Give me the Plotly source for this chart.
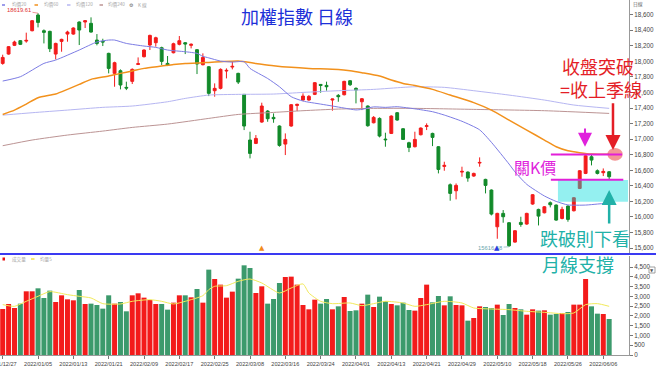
import plotly.graph_objects as go

dates = ["2021/12/27","2021/12/28","2021/12/29","2021/12/30",
"2022/01/03","2022/01/04","2022/01/05","2022/01/06","2022/01/07",
"2022/01/10","2022/01/11","2022/01/12","2022/01/13","2022/01/14",
"2022/01/17","2022/01/18","2022/01/19","2022/01/20","2022/01/21",
"2022/01/24","2022/01/25","2022/01/26",
"2022/02/07","2022/02/08","2022/02/09","2022/02/10","2022/02/11",
"2022/02/14","2022/02/15","2022/02/16","2022/02/17","2022/02/18",
"2022/02/21","2022/02/22","2022/02/23","2022/02/24","2022/02/25",
"2022/03/01","2022/03/02","2022/03/03","2022/03/04",
"2022/03/07","2022/03/08","2022/03/09","2022/03/10","2022/03/11",
"2022/03/14","2022/03/15","2022/03/16","2022/03/17","2022/03/18",
"2022/03/21","2022/03/22","2022/03/23","2022/03/24","2022/03/25",
"2022/03/28","2022/03/29","2022/03/30","2022/03/31","2022/04/01",
"2022/04/06","2022/04/07","2022/04/08",
"2022/04/11","2022/04/12","2022/04/13","2022/04/14","2022/04/15",
"2022/04/18","2022/04/19","2022/04/20","2022/04/21","2022/04/22",
"2022/04/25","2022/04/26","2022/04/27","2022/04/28","2022/04/29",
"2022/05/03","2022/05/04","2022/05/05","2022/05/06",
"2022/05/09","2022/05/10","2022/05/11","2022/05/12","2022/05/13",
"2022/05/16","2022/05/17","2022/05/18","2022/05/19","2022/05/20",
"2022/05/23","2022/05/24","2022/05/25","2022/05/26","2022/05/27",
"2022/05/30","2022/05/31","2022/06/01","2022/06/02",
"2022/06/06","2022/06/07"]

opens = [17974,18094,18206,18266,18261,18394,18596,18394,18386,18094,
18257,18351,18351,18506,18506,18489,18274,18257,18103,17846,
17880,17666,17743,17961,18060,18210,18240,18176,17974,18111,
18219,18240,18206,18150,17957,17931,17623,17653,17876,17927,
17846,17576,16989,16946,17220,17361,17280,17169,16937,17169,
17434,17503,17503,17576,17704,17691,17503,17563,17571,17751,
17653,17481,17426,17211,17267,17001,17074,17340,17134,16954,
16903,17057,17164,17074,16903,16650,16414,16337,16577,16577,
16526,16693,16483,16346,15874,16046,15926,15677,15930,15909,
16166,16097,16054,16183,16153,15981,16140,16080,16367,16560,
16774,16594,16569,16581]
highs = [18086,18197,18266,18274,18369,18531,18619.61,18411,18394,18240,
18291,18394,18437,18514,18531,18566,18351,18291,18111,17996,
17897,17739,17910,18051,18154,18343,18317,18189,18069,18240,
18326,18249,18231,18159,18103,17940,17717,17910,17910,18004,
17854,17580,17096,17053,17469,17374,17331,17177,17074,17451,
17456,17589,17567,17734,17709,17739,17520,17580,17751,17760,
17666,17529,17434,17297,17280,17083,17306,17349,17143,16967,
17096,17151,17203,17083,16911,16710,16431,16431,16646,16586,
16569,16766,16491,16354,16054,16089,15934,15831,16003,16054,
16294,16106,16140,16200,16161,16131,16149,16256,16603,16796,
16809,16611,16624,16590]
lows = [17957,18086,18197,18210,18240,18386,18437,18231,18120,18026,
18124,18253,18343,18210,18429,18369,18206,18197,17846,17674,
17640,17631,17709,17953,18051,18146,18189,17953,17940,18103,
18206,18094,18167,17837,17949,17554,17546,17640,17781,17897,
17709,17117,16753,16937,17211,17224,17211,16903,16796,17160,
17361,17494,17494,17567,17597,17623,17366,17481,17563,17683,
17460,17374,17160,17203,17023,16903,17066,17237,16989,16834,
16894,17049,17117,16911,16560,16594,16209,16226,16517,16453,
16517,16646,16303,16020,15720,15926,15616.68,15669,15874,15900,
16157,15891,16046,16123,15951,15969,15939,16071,16359,16551,
16663,16547,16526,16474]
closes = [18051,18189,18249,18219,18270,18523,18501,18373,18163,18231,
18283,18377,18429,18403,18523,18377,18231,18249,17910,17983,
17696,17657,17897,17970,18146,18334,18304,18000,17949,18227,
18266,18223,18219,17966,18051,17589,17653,17897,17884,17936,
17734,17169,16817,17010,17426,17263,17263,16920,16997,17443,
17447,17554,17550,17726,17691,17674,17516,17546,17743,17700,
17631,17520,17173,17280,17040,16993,17297,17246,16997,16894,
16997,17143,17173,17023,16611,16663,16303,16406,16586,16500,
16560,16701,16406,16037,16046,16003,15630,15823,15904,16046,
16286,16011,16131,16157,15960,16097,15969,16247,16594,16787,
16731,16560,16586,16517]
volumes = [2353,2609,2404,2626,3257,3257,3410,2916,3291,2711,
3052,2847,2796,3325,2609,2626,2558,2370,3052,2626,
2711,2234,3052,3154,2933,2813,2609,2609,2319,2677,
3052,3052,2950,3376,2677,4365,3887,3598,2933,3240,
3904,4586,4450,3171,3512,2626,2864,3683,3990,4007,
3598,2558,2336,2830,2626,2864,2336,2489,2967,2251,
2285,2626,3086,2455,2984,2745,2609,2540,2677,2302,
2268,2916,3598,2694,3018,2540,3001,2558,2540,1756,
1893,2489,2455,2404,2575,2046,2609,2404,2336,2063,
2336,2268,2285,2063,2097,2148,2199,2575,2575,3887,
2489,2114,2097,1841]

ma20_dates = ["2021/12/27","2021/12/30","2022/01/06","2022/01/10","2022/01/14","2022/01/19","2022/01/21","2022/01/24","2022/01/26","2022/02/09","2022/02/11","2022/02/15","2022/02/18","2022/02/22","2022/02/23","2022/02/24","2022/03/01","2022/03/03","2022/03/07","2022/03/08","2022/03/11","2022/03/15","2022/03/17","2022/03/21","2022/03/24","2022/03/28","2022/03/30","2022/04/01","2022/04/06","2022/04/08","2022/04/12","2022/04/14","2022/04/18","2022/04/19","2022/04/22","2022/04/26","2022/04/29","2022/05/05","2022/05/09","2022/05/12","2022/05/13","2022/05/17","2022/05/20","2022/05/24","2022/05/26","2022/05/31","2022/06/02","2022/06/07"]
ma20_vals = [17747,17803,17974,18017,18146,18249,18274,18274,18231,18197,18180,18146,18124,18103,18065,18045,18004,17991,17996,17910,17780,17674,17546,17490,17451,17426,17400,17376,17383,17415,17409,17417,17400,17390,17353,17310,17230,17120,16960,16680,16580,16420,16270,16200,16155,16153,16166,16180]

ma60_dates = ["2021/12/27","2021/12/29","2022/01/03","2022/01/05","2022/01/10","2022/01/12","2022/01/14","2022/01/18","2022/01/21","2022/01/25","2022/02/07","2022/02/09","2022/02/14","2022/02/16","2022/02/18","2022/02/23","2022/02/24","2022/03/01","2022/03/04","2022/03/09","2022/03/14","2022/03/17","2022/03/22","2022/03/29","2022/03/31","2022/04/06","2022/04/11","2022/04/13","2022/04/15","2022/04/19","2022/04/22","2022/04/27","2022/05/04","2022/05/09","2022/05/12","2022/05/17","2022/05/20","2022/05/24","2022/05/26","2022/05/30","2022/06/01","2022/06/07"]
ma60_vals = [17318,17374,17451,17533,17580,17640,17704,17769,17811,17846,17876,17910,17940,17961,17974,17983,17987,17995,18004,17974,17944,17923,17910,17897,17880,17854,17811,17760,17717,17690,17640,17567,17470,17374,17246,17117,16989,16903,16851,16826,16808,16805]

ma120_dates = ["2021/12/27","2022/01/04","2022/01/12","2022/01/20","2022/02/07","2022/02/15","2022/02/18","2022/02/24","2022/03/04","2022/03/14","2022/03/21","2022/03/29","2022/04/08","2022/04/15","2022/04/19","2022/04/26","2022/05/04","2022/05/12","2022/05/20","2022/05/27","2022/06/07"]
ma120_vals = [17309,17340,17374,17409,17426,17481,17524,17567,17576,17580,17601,17623,17640,17666,17674,17666,17623,17567,17503,17439,17396]

ma240_dates = ["2021/12/27","2022/01/04","2022/01/12","2022/01/20","2022/02/07","2022/02/15","2022/02/24","2022/03/04","2022/03/14","2022/03/21","2022/03/29","2022/04/08","2022/04/19","2022/05/04","2022/05/20","2022/06/07"]
ma240_vals = [16916,16989,17053,17104,17151,17194,17267,17318,17344,17366,17387,17396,17396,17383,17366,17331]

vma5_dates = ["2021/12/27","2021/12/29","2022/01/03","2022/01/05","2022/01/07","2022/01/12","2022/01/14","2022/01/18","2022/01/20","2022/01/25","2022/02/07","2022/02/10","2022/02/14","2022/02/16","2022/02/18","2022/02/23","2022/02/24","2022/02/25","2022/03/02","2022/03/04","2022/03/08","2022/03/10","2022/03/15","2022/03/17","2022/03/21","2022/03/22","2022/03/24","2022/03/28","2022/03/31","2022/04/06","2022/04/08","2022/04/12","2022/04/15","2022/04/19","2022/04/21","2022/04/26","2022/04/29","2022/05/04","2022/05/09","2022/05/12","2022/05/17","2022/05/20","2022/05/25","2022/05/27","2022/05/31","2022/06/02","2022/06/07"]
vma5_vals = [2575,2489,2745,3001,3240,3086,3001,2916,2626,2609,2745,2830,2745,2609,2745,3035,3342,3512,3546,3768,3887,3683,3171,3427,3632,3171,2745,2626,2660,2523,2626,2745,2660,2489,2575,2745,2660,2404,2353,2319,2234,2182,2114,2148,2575,2626,2489]

tick_dates = ["2021/12/27","2022/01/05","2022/01/13","2022/01/21","2022/02/09","2022/02/17","2022/02/25","2022/03/08","2022/03/16","2022/03/24","2022/04/01","2022/04/13","2022/04/21","2022/04/29","2022/05/10","2022/05/18","2022/05/26","2022/06/06"]
price_ticks = list(range(15600, 18601, 200))
vol_ticks = [0, 500, 1000, 1500, 2000, 2500, 3000, 3500, 4000, 4500]

# ---------------------------------------------------------------
idx = {d: i for i, d in enumerate(dates)}
xs = list(range(len(dates)))

RED = "#f31b1b"
GREEN = "#128a2a"
VGREEN = "#3c9a6c"
CJK = "Noto Sans CJK TC"
NUM = "Liberation Sans"

W, H = 656, 368
ML, MR, MT, MB = 0, 27, 0, 13
PW, PH = W - ML - MR, H - MT - MB


def px(x):
    return x / PW


def py(y):
    return (PH - y) / PH


fig = go.Figure()

for dl, vl, col, wd in [(ma240_dates, ma240_vals, "#bc9494", 1),
                        (ma120_dates, ma120_vals, "#b6b6f2", 1),
                        (ma60_dates, ma60_vals, "#f2911c", 1.5),
                        (ma20_dates, ma20_vals, "#7c7ce4", 1)]:
    fig.add_trace(go.Scatter(x=[idx[d] for d in dl], y=vl, mode="lines",
                             line=dict(color=col, width=wd, shape="spline", smoothing=0.6),
                             xaxis="x2", yaxis="y2", hoverinfo="skip", showlegend=False))

fig.add_trace(go.Candlestick(x=xs, open=opens, high=highs, low=lows, close=closes,
                             xaxis="x2", yaxis="y2",
                             increasing=dict(line=dict(color=RED, width=1), fillcolor=RED),
                             decreasing=dict(line=dict(color=GREEN, width=1), fillcolor=GREEN),
                             whiskerwidth=0, showlegend=False, hoverinfo="skip"))

vcolors = [RED if c >= o else VGREEN for o, c in zip(opens, closes)]
fig.add_trace(go.Bar(x=xs, y=volumes, marker=dict(color=vcolors, line=dict(width=0)),
                     xaxis="x", yaxis="y", showlegend=False, hoverinfo="skip"))
fig.add_trace(go.Scatter(x=[idx[d] for d in vma5_dates], y=vma5_vals, mode="lines",
                         line=dict(color="#f2ea5a", width=1, shape="spline", smoothing=0.6),
                         xaxis="x", yaxis="y", hoverinfo="skip", showlegend=False))

xr = [(0 - 2.7) / 5.888, (PW - 2.7) / 5.888]
ax_common = dict(showgrid=False, zeroline=False, automargin=False)

fig.update_layout(
    width=W, height=H, margin=dict(l=ML, r=MR, t=MT, b=MB, autoexpand=False),
    paper_bgcolor="white", plot_bgcolor="white", showlegend=False, bargap=0.15,
    xaxis=dict(domain=[0, 1], range=xr, anchor="y", tickmode="array",
               tickvals=[idx[d] for d in tick_dates], ticktext=tick_dates, tickangle=0,
               ticks="outside", ticklen=3, tickcolor="#777", showline=True, linecolor="#999",
               ticklabeloverflow="allow",
               tickfont=dict(size=5.6, color="#444", family=NUM), **ax_common),
    xaxis2=dict(matches="x", anchor="y2", showticklabels=False, ticks="", showline=False,
                rangeslider=dict(visible=False), **ax_common),
    yaxis=dict(domain=[0, py(256)], range=[0, 4500 * 99 / 88], side="right", anchor="x",
               tickmode="array", tickvals=vol_ticks, tickformat=",", ticks="outside", ticklen=3,
               tickcolor="#777", showline=True, linecolor="#999",
               tickfont=dict(size=6.3, color="#444", family=NUM), **ax_common),
    yaxis2=dict(domain=[py(254), 1], range=[15524, 18789], side="right", anchor="x2",
                tickmode="array", tickvals=price_ticks, tickformat=",", ticks="outside", ticklen=3,
                tickcolor="#777", showline=True, linecolor="#999",
                tickfont=dict(size=6.3, color="#444", family=NUM), **ax_common),
)

shapes = []
shapes.append(dict(type="line", xref="paper", yref="paper", x0=0, x1=W / PW, y0=py(254), y1=py(254),
                   line=dict(color="#3a3af2", width=2)))
shapes.append(dict(type="rect", xref="x2", yref="y2", x0=94.3, x1=106.2, y0=16196, y1=16474,
                   fillcolor="rgba(0,220,220,0.42)", line=dict(width=0), layer="above"))
shapes.append(dict(type="circle", xref="x2", yref="y2", x0=102.7, x1=105.3, y0=16723, y1=16887,
                   fillcolor="rgba(236,80,80,0.6)", line=dict(width=0), layer="above"))
shapes.append(dict(type="line", xref="x2", yref="y2", x0=93.1, x1=105.2, y0=16804, y1=16804,
                   line=dict(color="#e21fd8", width=2), layer="above"))
shapes.append(dict(type="line", xref="x2", yref="y2", x0=93.1, x1=105.4, y0=16480, y1=16480,
                   line=dict(color="#e21fd8", width=2), layer="above"))
for x0, x1, col in [(2, 5, "#7c7ce4"), (34.5, 38, "#f2911c"), (67, 70.5, "#b6b6f2"), (99.5, 103, "#bc9494")]:
    shapes.append(dict(type="line", xref="paper", yref="paper", x0=px(x0), x1=px(x1), y0=py(5), y1=py(5),
                       line=dict(color=col, width=1.5)))
shapes.append(dict(type="rect", xref="paper", yref="paper", x0=px(2.5), x1=px(5), y0=py(260.5), y1=py(257.5),
                   fillcolor="#e81010", line=dict(width=0)))
shapes.append(dict(type="line", xref="paper", yref="paper", x0=px(31), x1=px(34.5), y0=py(259), y1=py(259),
                   line=dict(color="#f2e04a", width=1.5)))
shapes.append(dict(type="rect", xref="paper", yref="paper", x0=px(649), x1=px(655), y0=py(273), y1=py(267),
                   fillcolor="white", line=dict(color="#888888", width=0.8)))
fig.update_layout(shapes=shapes)

ann = []


def txt(x, y, s, size, color, xanchor="center", family=CJK):
    ann.append(dict(xref="paper", yref="paper", x=px(x), y=py(y), text=s, showarrow=False,
                    xanchor=xanchor, yanchor="middle", font=dict(size=size, color=color, family=family)))


for x, s in [(9.5, "均價20"), (42, "均價60"), (74, "均價120"), (106, "均價240"), (136, "K 線")]:
    txt(x, 5, s, 4.6, "#a8a8a8", xanchor="left")
txt(131.5, 5, "⚙", 5, "#666666", family="DejaVu Sans")
txt(10, 259, "成交量", 4.6, "#a8a8a8", xanchor="left")
txt(38, 259, "均量5", 4.6, "#a8a8a8", xanchor="left")
txt(638, 4, "日線", 4.8, "#666666")
txt(652, 270, "▼", 4.2, "#555555", family="DejaVu Sans")

txt(297, 16, "加權指數 日線", 18, "#1d30d8")
txt(598, 66.5, "收盤突破", 18, "#e41e26")
txt(601, 89, "=收上季線", 18, "#e41e26")
txt(534.5, 167, "關K價", 16, "#e022dc")
txt(585, 238, "跌破則下看", 18, "#21b1a8")
txt(578, 263.5, "月線支撐", 18, "#21b1a8")

for xa, tip, tail, col, w, s in [(103.65, 16861, 17482, "#e41e26", 2.5, 1.2),
                                 (98.9, 16903, 17157, "#e022dc", 2.0, 1.4),
                                 (103.0, 16347, 15897, "#21b1a8", 2.5, 1.2)]:
    ann.append(dict(xref="x2", yref="y2", axref="x2", ayref="y2", x=xa, y=tip, ax=xa, ay=tail,
                    text="", showarrow=True, arrowhead=2, arrowsize=s, arrowwidth=w,
                    arrowcolor=col, standoff=0, startstandoff=0))

ann.append(dict(xref="x2", yref="y2", x=idx["2022/01/05"], y=max(highs), text="18619.61",
                showarrow=True, arrowhead=0, arrowwidth=0.7, arrowcolor="#e46a6a", ax=-19, ay=-3,
                font=dict(size=5.8, color="#e03030", family=NUM)))
ann.append(dict(xref="x2", yref="y2", x=idx["2022/05/12"], y=min(lows), text="15616.68",
                showarrow=True, arrowhead=0, arrowwidth=0.7, arrowcolor="#7ab0b4", ax=-19, ay=1,
                font=dict(size=5.8, color="#6aa6ae", family=NUM)))
for d, col in [("2022/03/10", "#f28a1c"), ("2022/05/10", "#2b3de0")]:
    ann.append(dict(xref="x2", yref="paper", x=idx[d], y=py(254.5), text="▲", showarrow=False,
                    yanchor="bottom", font=dict(size=7, color=col, family="DejaVu Sans")))

fig.update_layout(annotations=ann)
fig.write_html("out.html", config={"displayModeBar": False},
               post_script="document.body.style.margin='0';document.body.style.padding='0';")
